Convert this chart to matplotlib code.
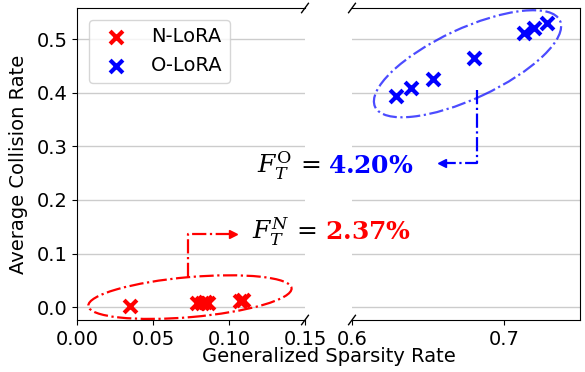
import numpy as np
import matplotlib
matplotlib.use("Agg")
import matplotlib.pyplot as plt
import matplotlib.transforms as mtransforms
from matplotlib.patches import Ellipse

plt.rcParams["mathtext.fontset"] = "dejavuserif"

# ── Data ─────────────────────────────────────────────────────────────────────
nlora_x = [0.035, 0.079, 0.082, 0.084, 0.086, 0.107, 0.109]
nlora_y = [0.002, 0.008, 0.008, 0.009, 0.008, 0.012, 0.014]
olora_x = [0.629, 0.639, 0.653, 0.680, 0.713, 0.720, 0.7285]
olora_y = [0.394, 0.408, 0.425, 0.465, 0.512, 0.520, 0.530]

left_ticks = [0.00, 0.05, 0.10, 0.15]
right_ticks = [0.6, 0.7]
y_ticks = [0.0, 0.1, 0.2, 0.3, 0.4, 0.5]

fo_label, fo_value = r"$F_T^{\mathrm{O}}\,=$", r"$\mathbf{4.20\%}$"
fn_label, fn_value = r"$F_T^{N}\,=$", r"$\mathbf{2.37\%}$"

FS = 14
W, H = 585, 372

fig = plt.figure(figsize=(W / 100, H / 100), dpi=100)
ax1 = fig.add_axes([77 / W, 1 - 320 / H, 228 / W, 312 / H])
ax2 = fig.add_axes([352 / W, 1 - 320 / H, 228 / W, 312 / H], sharey=ax1)

for ax in (ax1, ax2):
    ax.scatter(nlora_x, nlora_y, marker="x", s=85, linewidths=3, color="red",
               label="N-LoRA", zorder=3)
    ax.scatter(olora_x, olora_y, marker="x", s=85, linewidths=3, color="blue",
               label="O-LoRA", zorder=3)
    ax.grid(axis="y", color="#cccccc", linewidth=1)
    ax.set_axisbelow(True)
    ax.tick_params(labelsize=FS)

ax1.set_xlim(0, 0.15)
ax2.set_xlim(0.6, 0.75)
ax1.set_ylim(-0.024, 0.558)
ax1.set_xticks(left_ticks)
ax1.set_xticklabels([f"{t:.2f}" for t in left_ticks])
ax2.set_xticks(right_ticks)
ax2.set_xticklabels([f"{t:.1f}" for t in right_ticks])
ax1.set_yticks(y_ticks)
ax1.set_yticklabels([f"{t:.1f}" for t in y_ticks])
ax2.tick_params(axis="y", left=False, labelleft=False)

ax1.spines["right"].set_visible(False)
ax2.spines["left"].set_visible(False)

# break marks
d = 0.015
kw = dict(color="k", clip_on=False, linewidth=1)
ax1.plot((1 - d, 1 + d), (-d, +d), transform=ax1.transAxes, **kw)
ax1.plot((1 - d, 1 + d), (1 - d, 1 + d), transform=ax1.transAxes, **kw)
ax2.plot((-d, +d), (-d, +d), transform=ax2.transAxes, **kw)
ax2.plot((-d, +d), (1 - d, 1 + d), transform=ax2.transAxes, **kw)

ax1.set_ylabel("Average Collision Rate", fontsize=FS, labelpad=6)
fig.text(328.5 / W, 1 - 357 / H, "Generalized Sparsity Rate", fontsize=FS,
         ha="center", va="center")

ax1.legend(loc="upper left", fontsize=FS, scatterpoints=1,
           bbox_to_anchor=(0.0, 1.0), borderaxespad=0.6)


# ── highlight ellipses (size in pixels, centre in data) ──────────────────────
def pixel_ellipse(ax, cx, cy, w, h, angle, **kw):
    tr = mtransforms.ScaledTranslation(cx, cy, ax.transData)
    e = Ellipse((0, 0), w, h, angle=angle, transform=tr, fill=False, **kw)
    ax.add_patch(e)


pixel_ellipse(ax1, 0.0743, 0.0187, 204, 40, 5, edgecolor="red",
              linestyle="-.", linewidth=1.6)
pixel_ellipse(ax2, 0.676, 0.454, 204, 70, 25, edgecolor="blue", alpha=0.7,
              linestyle="-.", linewidth=1.6)

# ── elbow arrows ─────────────────────────────────────────────────────────────
ax2.plot([0.682, 0.682, 0.661], [0.405, 0.2687, 0.2687], color="blue",
         linestyle="-.", linewidth=1.6)
ax2.plot([0.6595], [0.2687], marker="<", markersize=6, color="blue")
ax1.plot([0.0730, 0.0730, 0.101], [0.056, 0.136, 0.136], color="red",
         linestyle="-.", linewidth=1.6)
ax1.plot([0.1026], [0.136], marker=">", markersize=6, color="red")

# ── annotations ──────────────────────────────────────────────────────────────
TS = 18
fig.text(320 / W, 1 - 166 / H, fo_label, fontsize=TS, ha="right", va="center")
fig.text(328 / W, 1 - 166 / H, fo_value, fontsize=TS, ha="left", va="center",
         color="blue")
fig.text(316 / W, 1 - 232 / H, fn_label, fontsize=TS, ha="right", va="center")
fig.text(325 / W, 1 - 232 / H, fn_value, fontsize=TS, ha="left", va="center",
         color="red")

fig.savefig("out.png", dpi=100)
